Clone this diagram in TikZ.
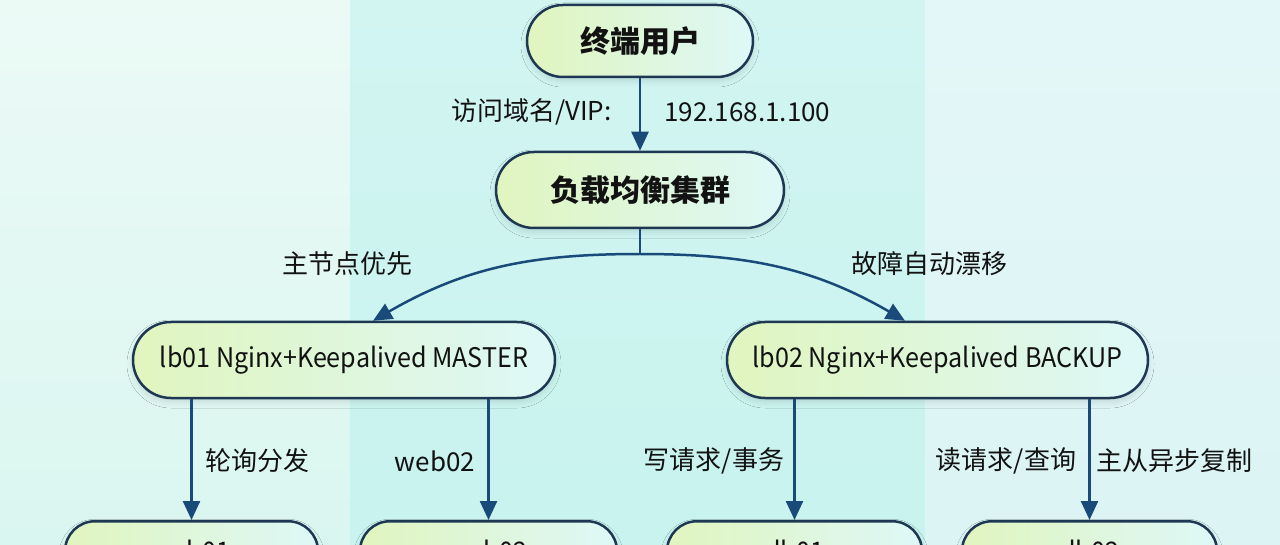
\documentclass[tikz,border=0pt]{standalone}
\usepackage{fontspec}
\setmainfont{Noto Sans CJK SC}
\newfontfamily\condfont{Noto Sans CJK SC}[FakeStretch=0.93]
\usetikzlibrary{arrows.meta,shadows.blur}
\definecolor{bgLt}{RGB}{236,250,246}
\definecolor{bgLb}{RGB}{218,246,240}
\definecolor{bgMt}{RGB}{210,245,242}
\definecolor{bgMb}{RGB}{200,243,238}
\definecolor{bgRt}{RGB}{228,247,248}
\definecolor{bgRb}{RGB}{220,244,244}
\definecolor{fillL}{RGB}{224,245,190}
\definecolor{fillR}{RGB}{222,248,248}
\definecolor{nodeB}{RGB}{30,56,84}
\definecolor{arrowC}{RGB}{26,74,122}
\definecolor{txt}{RGB}{18,18,18}
\begin{document}
\begin{tikzpicture}[x=0.5pt,y=-0.5pt,
  pill/.style={draw=nodeB, line width=1.25pt, left color=fillL, right color=fillR, text=txt, inner sep=0pt,
    blur shadow={shadow xshift=0pt, shadow yshift=-2pt, shadow blur radius=3pt, shadow opacity=12}},
  titlefont/.style={font=\fontsize{15pt}{18pt}\selectfont\bfseries},
  plainfont/.style={font=\condfont\fontsize{13.5pt}{16pt}\selectfont},
  lbl/.style={font=\fontsize{13pt}{16pt}\selectfont, text=txt, inner sep=0pt},
  conn/.style={draw=arrowC, line width=1.25pt, -{Triangle[length=9.5pt,width=8.5pt]}},
  plainline/.style={draw=arrowC, line width=1.25pt}]
\useasboundingbox (0,0) rectangle (1280,545);
\clip (0,0) rectangle (1280,545);
% background bands
\shade[top color=bgLt, bottom color=bgLb] (0,0) rectangle (350,545);
\shade[top color=bgMt, bottom color=bgMb] (350,0) rectangle (925,545);
\shade[top color=bgRt, bottom color=bgRb] (925,0) rectangle (1280,545);
% nodes
\node[pill, titlefont, minimum width=113pt, minimum height=36pt, rounded corners=18pt] (user) at (640,41) {终端用户};
\node[pill, titlefont, minimum width=144pt, minimum height=38pt, rounded corners=19pt] (lbc) at (640,190) {负载均衡集群};
\node[pill, plainfont, minimum width=211pt, minimum height=38pt, rounded corners=19pt] (lb01) at (344,360) {lb01 Nginx+Keepalived MASTER};
\node[pill, plainfont, minimum width=210.5pt, minimum height=38pt, rounded corners=19pt] (lb02) at (937.5,360) {lb02 Nginx+Keepalived BACKUP};
\node[pill, plainfont, minimum width=126.5pt, minimum height=30pt, rounded corners=15pt, anchor=north] (web01) at (191.5,520) {web01};
\node[pill, plainfont, minimum width=128.5pt, minimum height=30pt, rounded corners=15pt, anchor=north] (web02) at (488.5,520) {web02};
\node[pill, plainfont, minimum width=127.5pt, minimum height=30pt, rounded corners=15pt, anchor=north] (db01) at (794.5,520) {db01};
\node[pill, plainfont, minimum width=127.5pt, minimum height=30pt, rounded corners=15pt, anchor=north] (db02) at (1089.5,520) {db02};
% connectors
\draw[conn] (user) -- (lbc);
\coordinate (split) at (640,254);
\draw[plainline] (lbc.south) -- (split);
\draw[conn] (split) to[out=180,in=30] ([xshift=14.5pt]lb01.north);
\draw[conn] (split) to[out=0,in=150] ([xshift=-16.25pt]lb02.north);
\draw[conn] (lb01.south -| web01.north) -- (web01.north);
\draw[conn] (lb01.south -| web02.north) -- (web02.north);
\draw[conn] (lb02.south -| db01.north) -- (db01.north);
\draw[conn] (lb02.south -| db02.north) -- (db02.north);
% labels
\node[lbl, anchor=east] (l1) at (612,112) {访问域名/VIP:};
\node[lbl, anchor=west] (l2) at (664,112) {192.168.1.100};
\node[lbl] (l3) at (347,264) {主节点优先};
\node[lbl] (l4) at (929,264) {故障自动漂移};
\node[lbl] (l5) at (257,461) {轮询分发};
\node[lbl] (l6) at (435,461) {web02};
\node[lbl] (l7) at (714,461) {写请求/事务};
\node[lbl] (l8) at (1006,461) {读请求/查询};
\node[lbl] (l9) at (1174,461) {主从异步复制};
\end{tikzpicture}
\end{document}
